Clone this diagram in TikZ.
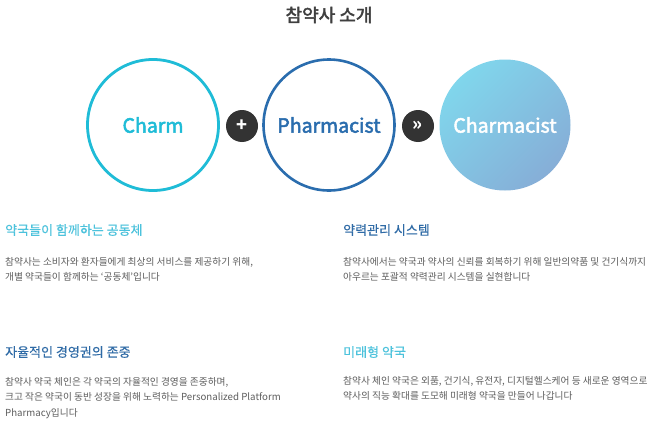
\documentclass[tikz,border=0pt]{standalone}
\usepackage{fontspec}
\setmainfont{Noto Sans CJK KR}
\newfontfamily\medfont[FakeBold=2.6]{Noto Sans CJK KR}
\newfontfamily\titlefont[FakeBold=2.4]{Noto Sans CJK KR}
\newfontfamily\headfont[FakeBold=0.3]{Noto Sans CJK KR}
\definecolor{cyanc}{HTML}{1FBCD7}
\definecolor{bluec}{HTML}{2A6DAE}
\definecolor{headcyan}{HTML}{4CC2DC}
\definecolor{headblue}{HTML}{2F6BA6}
\definecolor{bodygray}{HTML}{5E5E5E}
\definecolor{titlegray}{HTML}{3F3F3F}
\definecolor{darkbtn}{HTML}{333333}
\definecolor{gradA}{HTML}{80D6EC}
\definecolor{gradB}{HTML}{86AED7}
\begin{document}
\begin{tikzpicture}[x=1pt,y=1pt,
  bigcirc/.style={circle, minimum size=131pt, inner sep=0pt, font=\medfont\fontsize{19.5}{24}\selectfont},
  btn/.style={circle, fill=darkbtn, minimum size=32pt, inner sep=0pt, text=white, font=\fontsize{18}{18}\selectfont\bfseries},
  heading/.style={anchor=west, inner sep=0pt, font=\headfont\fontsize{13}{16}\selectfont},
  bodytext/.style={anchor=north west, inner sep=0pt, align=left, text=bodygray, font=\fontsize{9.7}{15.5}\selectfont}
]
\useasboundingbox (0,0) rectangle (659,-423);
\fill[white] (0,0) rectangle (659,-423);
\node[text=titlegray, font=\titlefont\fontsize{18}{22}\selectfont] (title) at (329,-15) {참약사 소개};
\node[bigcirc, draw=cyanc, line width=2.8pt, text=cyanc] (charm) at (153,-125) {Charm};
\node[btn] (plus) at (242,-126) {+};
\node[bigcirc, draw=bluec, line width=2.6pt, text=bluec] (pharm) at (329,-125) {Pharmacist};
\node[btn] (next) at (418,-126) {»};
\node[bigcirc, top color=gradA, bottom color=gradB, shading angle=45, text=white] (charmacist) at (505,-125) {Charmacist};

\node[heading, text=headcyan] (h1) at (5,-230) {약국들이 함께하는 공동체};
\node[bodytext] (b1) at (5,-257) {참약사는 소비자와 환자들에게 최상의 서비스를 제공하기 위해,\\개별 약국들이 함께하는 ‘공동체’입니다};

\node[heading, text=headblue] (h2) at (343,-230) {약력관리 시스템};
\node[bodytext] (b2) at (343,-257) {참약사에서는 약국과 약사의 신뢰를 회복하기 위해 일반의약품 및 건기식까지\\아우르는 포괄적 약력관리 시스템을 실현합니다};

\node[heading, text=headblue] (h3) at (5,-352) {자율적인 경영권의 존중};
\node[bodytext] (b3) at (5,-377) {참약사 약국 체인은 각 약국의 자율적인 경영을 존중하며,\\크고 작은 약국이 동반 성장을 위해 노력하는 Personalized Platform\\Pharmacy입니다};

\node[heading, text=headcyan] (h4) at (343,-352) {미래형 약국};
\node[bodytext] (b4) at (343,-376) {참약사 체인 약국은 외품, 건기식, 유전자, 디지털헬스케어 등 새로운 영역으로\\약사의 직능 확대를 도모해 미래형 약국을 만들어 나갑니다};
\end{tikzpicture}
\end{document}
